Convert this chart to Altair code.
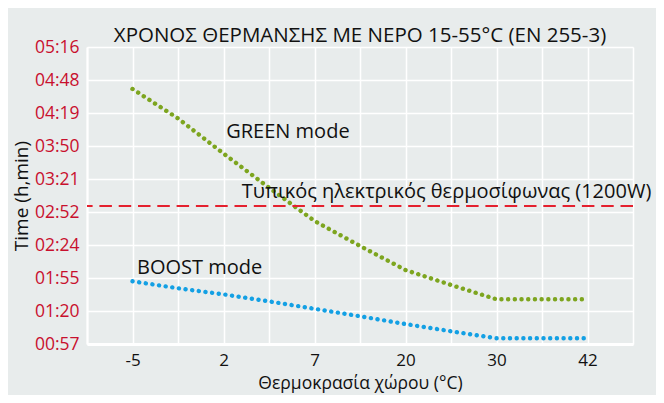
import altair as alt
import pandas as pd

# ---- data ----
CATEGORIES = ["-5", "2", "7", "20", "30", "42"]
Y_LABELS = ["00:57", "01:20", "01:55", "02:24", "02:52",
            "03:21", "03:50", "04:19", "04:48", "05:16"]
Y_MIN, Y_MAX = 57, 316          # minutes (00:57 .. 05:16)

# positions along the category axis (category index, read at every grid line)
POS = [0, 0.5, 1, 1.5, 2, 2.5, 3, 3.5, 4, 4.5, 5]
GREEN_MIN = [279.4, 253.7, 223.1, 193.3, 164.3, 142.5, 121.5, 108.5, 96, 96, 96]
BOOST_MIN = [111.7, 105.6, 100.3, 94.2, 87.7, 81.2, 74.4, 68.1, 62, 62, 62]
REFERENCE_MIN = [177.4]

ANNOT_TEXT = ["GREEN mode", "BOOST mode", "Τυπικός ηλεκτρικός θερμοσίφωνας (1200W)"]
ANNOT_X = [1.03, 0.05, 1.2]
ANNOT_Y = [241.9, 123.5, 189.8]

SERIES = ["GREEN", "BOOST"]
COLORS = ["#7DA51F", "#13A0E4"]

FONT = "Open Sans"

lines = pd.DataFrame({
    "pos": POS * 2,
    "minutes": GREEN_MIN + BOOST_MIN,
    "series": ["GREEN"] * len(POS) + ["BOOST"] * len(POS),
})
ref = pd.DataFrame({"minutes": REFERENCE_MIN})
annots = pd.DataFrame({"pos": ANNOT_X, "minutes": ANNOT_Y, "text": ANNOT_TEXT})

n = len(CATEGORIES)
x_values = [-0.5 + 0.5 * k for k in range(2 * n + 1)]
cat_js = "[" + ",".join("'" + c + "'" for c in CATEGORIES) + "]"
x_label_expr = f"datum.value % 1 == 0 ? {cat_js}[datum.value] : ''"

step = (Y_MAX - Y_MIN) / (len(Y_LABELS) - 1)
y_values = [Y_MIN + k * step for k in range(len(Y_LABELS))]
ylab_js = "[" + ",".join("'" + c + "'" for c in Y_LABELS) + "]"
y_label_expr = f"{ylab_js}[round((datum.value - {Y_MIN}) / {step})]"

X = alt.X("pos:Q",
          scale=alt.Scale(domain=[-0.5, n - 0.5], nice=False, zero=False),
          axis=alt.Axis(values=x_values, labelExpr=x_label_expr,
                        title="Θερμοκρασία χώρου (°C)",
                        grid=True, gridColor="white", gridWidth=1.5,
                        ticks=False, tickSize=0,
                        domain=True, domainColor="white", domainWidth=3,
                        labelFontSize=17, labelColor="#111111", labelPadding=8,
                        labelOverlap=False, labelFlush=False,
                        titleFontSize=17.5, titleFontWeight="normal",
                        titleColor="#111111", titlePadding=6))
Y = alt.Y("minutes:Q",
          scale=alt.Scale(domain=[Y_MIN, Y_MAX], nice=False, zero=False),
          axis=alt.Axis(values=y_values, labelExpr=y_label_expr,
                        title="Time (h,min)",
                        grid=True, gridColor="white", gridWidth=1.5,
                        ticks=False, tickSize=0,
                        domain=True, domainColor="white", domainWidth=2,
                        labelFontSize=17.5, labelColor="#C8102E", labelPadding=8,
                        labelOverlap=False,
                        titleFontSize=19, titleFontWeight="normal",
                        titleColor="#111111", titlePadding=3))

line_layer = alt.Chart(lines).mark_line(
    strokeDash=[0.1, 6.6], strokeCap="round", strokeWidth=4.4
).encode(
    x=X, y=Y,
    color=alt.Color("series:N", scale=alt.Scale(domain=SERIES, range=COLORS), legend=None),
)

rule_layer = alt.Chart(ref).mark_rule(
    color="#E4202E", strokeWidth=2, strokeDash=[12.5, 6.8]
).encode(y=Y)

text_layer = alt.Chart(annots).mark_text(
    align="left", baseline="middle", fontSize=20, font=FONT, color="#111111"
).encode(x=X, y=Y, text="text:N")

chart = alt.layer(line_layer, rule_layer, text_layer).properties(
    width=546, height=297,
    autosize=alt.AutoSizeParams(type="none"),
    padding={"left": 79, "top": 39, "right": 23, "bottom": 51},
    title=alt.TitleParams("ΧΡΟΝΟΣ ΘΕΡΜΑΝΣΗΣ ΜΕ ΝΕΡΟ 15-55°C (EN 255-3)",
                          fontSize=20.5, fontWeight="normal", font=FONT,
                          color="#111111", anchor="middle",
                          baseline="alphabetic", offset=8, dy=32),
).configure(
    background="#E8ECEC", font=FONT
).configure_view(
    stroke=None
).configure_axis(
    labelFont=FONT, titleFont=FONT
)

chart.save("out.html", embed_options={"renderer": "svg", "actions": False})
